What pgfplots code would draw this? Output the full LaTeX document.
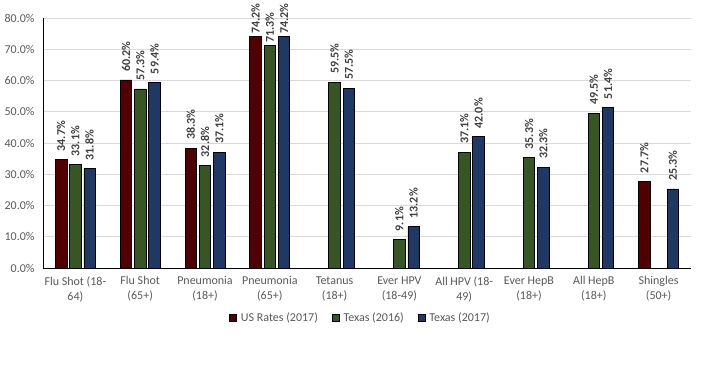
\documentclass[border=0pt]{standalone}
\usepackage{fontspec}
\setmainfont{Carlito}
\usepackage{pgfplots}
\pgfplotsset{compat=1.18}
\definecolor{usred}{HTML}{4F0000}
\definecolor{txgreen}{HTML}{375623}
\definecolor{txblue}{HTML}{1F3864}
\definecolor{ticgrey}{HTML}{595959}
\definecolor{lblgrey}{HTML}{404040}
\definecolor{gridgrey}{HTML}{D9D9D9}
\begin{document}
\begin{tikzpicture}
\useasboundingbox (-43bp,-116bp) rectangle (680bp,268bp);
\begin{axis}[
  at={(0,0)}, anchor=south west,
  scale only axis, width=648bp, height=250bp,
  ybar=2.75bp, bar width=11.5bp,
  xmin=-0.5, xmax=9.5, ymin=0, ymax=80,
  xtick={0,...,9},
  xticklabels={{Flu Shot (18-\\64)},{Flu Shot\\(65+)},{Pneumonia\\(18+)},{Pneumonia\\(65+)},{Tetanus\\(18+)},{Ever HPV\\(18-49)},{All HPV (18-\\49)},{Ever HepB\\(18+)},{All HepB\\(18+)},{Shingles\\(50+)}},
  xticklabel style={align=center, font=\fontsize{12bp}{15bp}\selectfont, text=ticgrey, yshift=-5bp},
  ytick={0,10,...,80},
  yticklabel={\pgfmathprintnumber[fixed,fixed zerofill,precision=1]{\tick}\%},
  yticklabel style={font=\fontsize{12bp}{14bp}\selectfont, text=ticgrey, xshift=-5bp},
  /pgf/number format/assume math mode=true,
  major tick length=0pt,
  ymajorgrids, grid style={gridgrey, line width=0.75bp},
  axis x line*=bottom, axis y line*=left,
  axis line style={black, line width=0.9bp, -},
  visualization depends on={y \as \rawy},
  nodes near coords={\ifdim\rawy pt>70pt\hspace{0bp}\else\hspace{6bp}\fi\pgfmathprintnumber[fixed,fixed zerofill,precision=1]{\pgfplotspointmeta}\%},
  nodes near coords style={rotate=90, anchor=west, font=\bfseries\fontsize{12bp}{14bp}\selectfont, text=lblgrey, inner sep=2bp},
  every axis plot/.append style={draw=black, line width=0.75bp},
  legend style={at={(0.49,-0.2)}, anchor=center, draw=none, legend columns=3, font=\fontsize{12bp}{14bp}\selectfont, text=ticgrey, /tikz/every even column/.append style={column sep=12bp}},
  legend image code/.code={\draw[#1, line width=0.5bp] (0bp,-3.5bp) rectangle (7bp,3.5bp); \path (9bp,0bp);},
]
\addplot[fill=usred] coordinates {(0,34.7) (1,60.2) (2,38.3) (3,74.2) (9,27.7)};
\addplot[fill=txgreen] coordinates {(0,33.1) (1,57.3) (2,32.8) (3,71.3) (4,59.5) (5,9.1) (6,37.1) (7,35.3) (8,49.5)};
\addplot[fill=txblue] coordinates {(0,31.8) (1,59.4) (2,37.1) (3,74.2) (4,57.5) (5,13.2) (6,42.0) (7,32.3) (8,51.4) (9,25.3)};
\legend{US Rates (2017),Texas (2016),Texas (2017)}
\end{axis}
\end{tikzpicture}
\end{document}
